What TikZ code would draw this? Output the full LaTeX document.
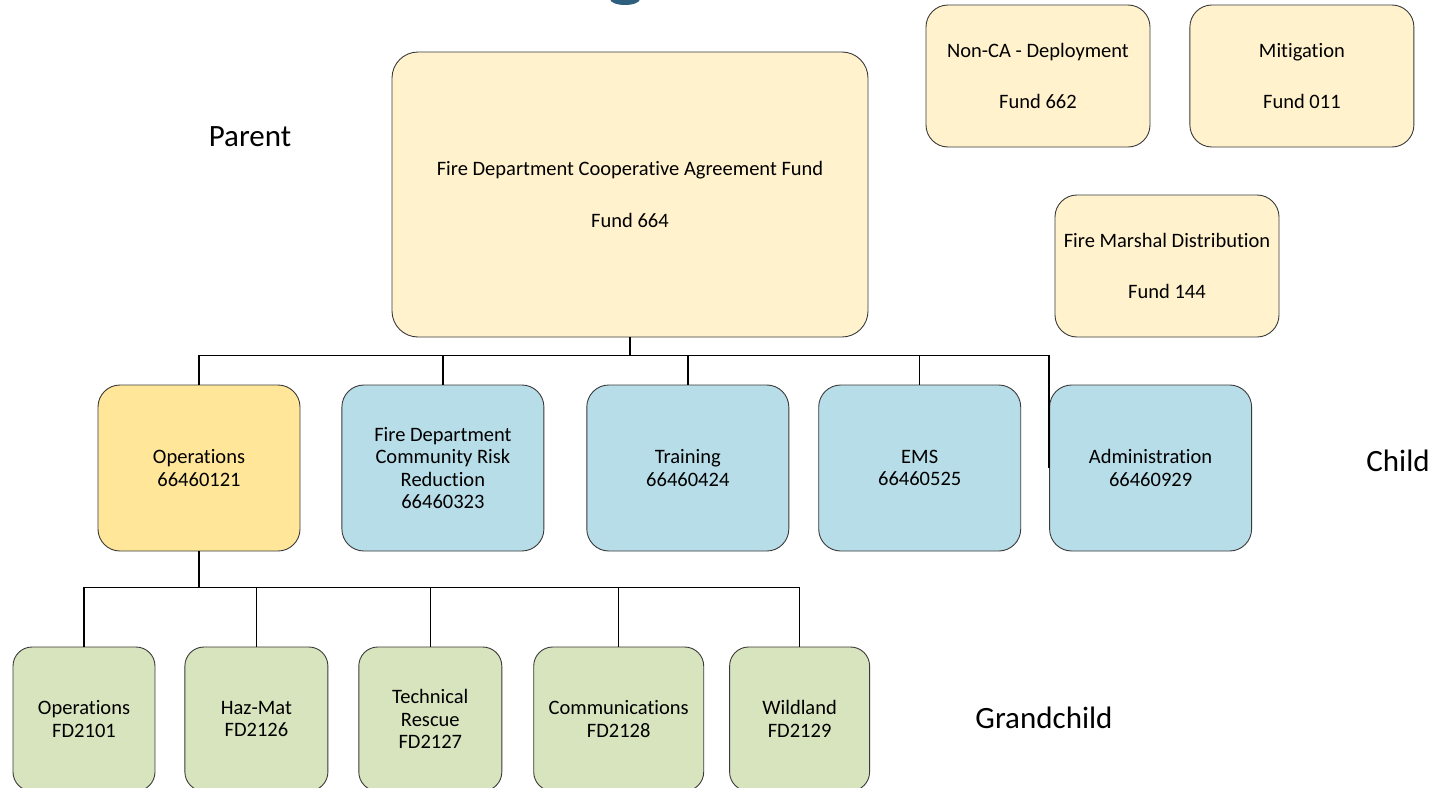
\documentclass[tikz,border=0pt]{standalone}
\usepackage{fontspec}
\setmainfont{Carlito}[Ligatures=NoCommon]
\usetikzlibrary{positioning}
\definecolor{fundcream}{HTML}{FFF2CC}
\definecolor{opsgold}{HTML}{FFE699}
\definecolor{unitblue}{HTML}{B7DDE8}
\definecolor{subgreen}{HTML}{D7E4BD}
\definecolor{titleteal}{HTML}{2F5F7E}
\definecolor{edgegray}{HTML}{3A3A3A}

\begin{document}
\begin{tikzpicture}[x=1pt, y=-1pt,
  box/.style={draw=edgegray, line width=0.9pt, rounded corners=22pt, align=center, inner sep=2pt, font=\fontsize{20.5}{22.5}\selectfont},
  fund node/.style={box, fill=fundcream, minimum width=224pt, minimum height=142pt},
  child node/.style={box, fill=unitblue, minimum width=202pt, minimum height=166pt},
  grand node/.style={box, fill=subgreen, minimum width=143pt, minimum height=144pt, rounded corners=19pt},
  level label/.style={font=\fontsize{31}{36}\selectfont},
  conn/.style={line width=1.5pt}]

\useasboundingbox (0,0) rectangle (1453,787);
\fill[titleteal] (625,-1) ellipse [x radius=15pt, y radius=6pt];

\node[fund node, minimum width=476pt, minimum height=285pt, rounded corners=26pt] (parent) at (630,194.5) {Fire Department Cooperative Agreement Fund\\[29pt]Fund 664};
\node[fund node] (nonca) at (1038,76) {Non-CA - Deployment\\[28pt]Fund 662};
\node[fund node, right=39pt of nonca] (mitig) {Mitigation\\[28pt]Fund 011};
\node[fund node] (marshal) at (1167,266) {Fire Marshal Distribution\\[28pt]Fund 144};

\node[child node, fill=opsgold] (ops) at (199,468) {Operations\\66460121};
\node[child node, right=41pt of ops] (crr) {Fire Department\\Community Risk\\Reduction\\66460323};
\node[child node, right=42pt of crr] (train) {Training\\66460424};
\node[child node, right=29pt of train] (ems) {EMS\\66460525};
\node[child node, right=28pt of ems] (admin) {Administration\\66460929};

\node[grand node, minimum width=142pt] (g1) at (84,719) {Operations\\FD2101};
\node[grand node, right=29pt of g1] (g2) {Haz-Mat\\FD2126};
\node[grand node, right=30pt of g2] (g3) {Technical\\Rescue\\FD2127};
\node[grand node, right=31pt of g3, minimum width=170pt] (g4) {Communications\\FD2128};
\node[grand node, right=25pt of g4, minimum width=140pt] (g5) {Wildland\\FD2129};

\node[level label] (lparent) at (250,137) {Parent};
\node[level label] (lchild) at (1398,461) {Child};
\node[level label] (lgrand) at (1044,718) {Grandchild};

\coordinate[below=18pt of parent] (pbus);
\coordinate[below=36pt of ops] (gbus);

\draw[conn] (parent.south) -- (pbus);
\draw[conn] (pbus) -| (ops.north) (pbus) -| (crr.north) (pbus) -| (train.north)
  (pbus) -| (ems.north) (pbus) -| (admin.west);
\draw[conn] (ops.south) -- (gbus);
\draw[conn] (gbus) -| (g1.north) (gbus) -| (g2.north) (gbus) -| (g3.north)
  (gbus) -| (g4.north) (gbus) -| (g5.north);

\end{tikzpicture}
\end{document}
